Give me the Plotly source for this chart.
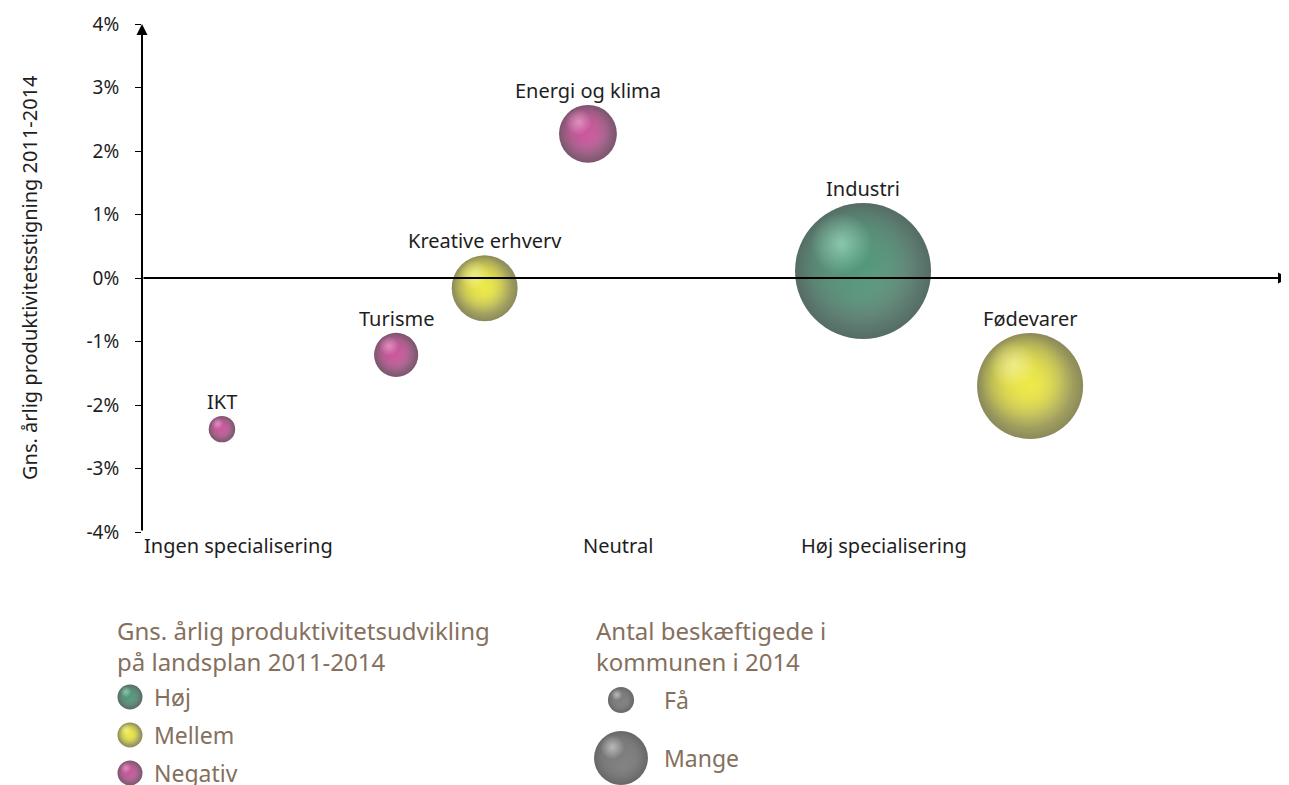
import plotly.graph_objects as go

# ---- data ----
sectors = ['IKT', 'Turisme', 'Kreative erhverv', 'Energi og klima', 'Industri', 'Fødevarer']
specialisering = [0.168, 0.534, 0.72, 0.937, 1.515, 1.866]      # 0 = ingen, 1 = neutral
produktivitet = [-2.38, -1.21, -0.16, 2.27, 0.11, -1.70]          # gns. årlig stigning, %
beskaeftigede = [700, 1950, 4350, 3350, 18500, 11250]             # bubble area
gruppe = ['Negativ', 'Negativ', 'Mellem', 'Negativ', 'Høj', 'Mellem']

x_ticks = [0, 1, 1.56]
x_ticktext = ['Ingen specialisering', 'Neutral', 'Høj specialisering']
y_ticks = [-4, -3, -2, -1, 0, 1, 2, 3, 4]
y_ticktext = ['-4%', '-3%', '-2%', '-1%', '0%', '1%', '2%', '3%', '4%']

groups = ['Høj', 'Mellem', 'Negativ']
size_labels = ['Få', 'Mange']
size_values = [680, 2900]

# colours: edge, mid, highlight (rgb triplets)
palette = {
    'Høj': ((12, 46, 34), (74, 146, 115), (175, 235, 208)),
    'Mellem': ((90, 88, 18), (236, 232, 60), (250, 248, 180)),
    'Negativ': ((66, 12, 46), (200, 78, 150), (246, 180, 220)),
    'Grå': ((38, 38, 38), (118, 118, 118), (228, 228, 228)),
}

FONT = 'Noto Sans'
BROWN = '#85705d'
INK = '#1e1e1e'
W, H = 1289, 785
OFF = 8          # page body margin, figure starts 8px in
X_RANGE = [0, 2.41]
Y_RANGE = [-4, 4]
X_DOM = [(142 - OFF) / W, (1289 - OFF) / W]
Y_DOM = [1 - (532 - OFF) / H, 1 - (24 - OFF) / H]

px_per_x = (X_DOM[1] - X_DOM[0]) * W / (X_RANGE[1] - X_RANGE[0])
px_per_y = (Y_DOM[1] - Y_DOM[0]) * H / (Y_RANGE[1] - Y_RANGE[0])


def rgba(c, a):
    return 'rgba(%d,%d,%d,%.2f)' % (c[0], c[1], c[2], a)


def sphere(fig, xs, ys, diam, key, xaxis='x', yaxis='y', sx=1.0, sy=1.0, up=1):
    # layered markers to fake a lit sphere (light from upper left)
    edge, mid, hl = palette[key]
    layers = [
        # scale, offset (fraction of diameter), edge colour, centre colour
        (1.00, 0.00, rgba(edge, 1), rgba(mid, 1)),
        (0.90, 0.05, rgba(mid, 0), rgba(mid, 1)),
        (0.80, 0.09, rgba(mid, 0), rgba(mid, 0.9)),
        (0.45, 0.20, rgba(hl, 0), rgba(hl, 0.85)),
    ]
    for s, off, c_edge, c_mid in layers:
        fig.add_trace(go.Scatter(
            x=[x - 0.8 * off * d / sx for x, d in zip(xs, diam)],
            y=[y + up * off * d / sy for y, d in zip(ys, diam)],
            mode='markers', xaxis=xaxis, yaxis=yaxis, hoverinfo='skip', showlegend=False,
            marker=dict(size=[s * d for d in diam], color=c_edge, line_width=0,
                        gradient=dict(type='radial', color=c_mid))))


fig = go.Figure()

diams = [v ** 0.5 for v in beskaeftigede]
for g in groups:
    idx = [i for i, k in enumerate(gruppe) if k == g]
    sphere(fig, [specialisering[i] for i in idx], [produktivitet[i] for i in idx],
           [diams[i] for i in idx], g, sx=px_per_x, sy=px_per_y)

# labels above bubbles
for name, xv, yv, d in zip(sectors, specialisering, produktivitet, diams):
    fig.add_annotation(x=xv, y=yv, xref='x', yref='y', text=name, showarrow=False,
                       yanchor='bottom', yshift=d / 2 - 1,
                       font=dict(family=FONT, size=20, color=INK))

# axes arrows
fig.add_annotation(x=0, y=Y_RANGE[1], ax=0, ay=Y_RANGE[0], xref='x', yref='y', axref='x', ayref='y',
                   text='', showarrow=True, arrowhead=2, arrowsize=1.1, arrowwidth=2, arrowcolor='black')
fig.add_annotation(x=X_RANGE[1], y=0, ax=0, ay=0, xref='x', yref='y', axref='x', ayref='y',
                   text='', showarrow=True, arrowhead=2, arrowsize=1.1, arrowwidth=2, arrowcolor='black')

# x category labels along the bottom
for xv, t in zip(x_ticks, x_ticktext):
    fig.add_annotation(x=xv, y=Y_RANGE[0], xref='x', yref='y', text=t, showarrow=False,
                       xanchor='left' if xv == 0 else 'center', yanchor='top', yshift=2,
                       font=dict(family=FONT, size=20, color=INK))

# y title
fig.add_annotation(x=(30 - OFF) / W, y=(Y_DOM[0] + Y_DOM[1]) / 2, xref='paper', yref='paper',
                   xanchor='center', yanchor='middle',
                   text='Gns. årlig produktivitetsstigning 2011-2014', textangle=-90, showarrow=False,
                   font=dict(family=FONT, size=20, color=INK))

# ---- legend panel (reference pixel coordinates in its own axes) ----
leg_titles = ['Gns. årlig produktivitetsudvikling<br>på landsplan 2011-2014', 'Antal beskæftigede i<br>kommunen i 2014']
leg_title_pos = [(115, 646), (594, 646)]
for t, (lx, ly) in zip(leg_titles, leg_title_pos):
    fig.add_annotation(x=lx, y=ly, xref='x2', yref='y2', text=t, showarrow=False, align='left',
                       xanchor='left', yanchor='middle', font=dict(family=FONT, size=24, color=BROWN))

col_x = [130] * 3
col_y = [697, 735, 773]
for g, lx, ly in zip(groups, col_x, col_y):
    sphere(fig, [lx], [ly], [25], g, xaxis='x2', yaxis='y2', up=-1)
    fig.add_annotation(x=152, y=ly, xref='x2', yref='y2', text=g, showarrow=False, xanchor='left',
                       font=dict(family=FONT, size=23, color=BROWN))

size_x = [621, 621]
size_y = [700, 758]
for lab, v, lx, ly in zip(size_labels, size_values, size_x, size_y):
    sphere(fig, [lx], [ly], [v ** 0.5], 'Grå', xaxis='x2', yaxis='y2', up=-1)
    fig.add_annotation(x=662, y=ly, xref='x2', yref='y2', text=lab, showarrow=False, xanchor='left',
                       font=dict(family=FONT, size=23, color=BROWN))

fig.update_layout(
    width=W, height=H,
    margin=dict(l=0, r=0, t=0, b=0, autoexpand=False),
    paper_bgcolor='white', plot_bgcolor='rgba(0,0,0,0)',
    font=dict(family=FONT),
    xaxis=dict(domain=X_DOM, range=X_RANGE, showgrid=False, zeroline=False, showline=False,
               showticklabels=False, ticks='', automargin=False),
    yaxis=dict(domain=Y_DOM, range=Y_RANGE, showgrid=False, zeroline=False, showline=False,
               tickvals=y_ticks, ticktext=y_ticktext, ticks='outside', ticklen=6, tickwidth=1,
               tickcolor='black', automargin=False, ticklabelstandoff=12,
               tickfont=dict(family=FONT, size=19, color=INK)),
    xaxis2=dict(domain=[0, 1], range=[OFF, W + OFF], visible=False, anchor='y2', automargin=False),
    yaxis2=dict(domain=[0, 0.3], range=[H + OFF, H + OFF - 0.3 * H], visible=False, anchor='x2',
                automargin=False),
)

fig.write_html('out.html')
